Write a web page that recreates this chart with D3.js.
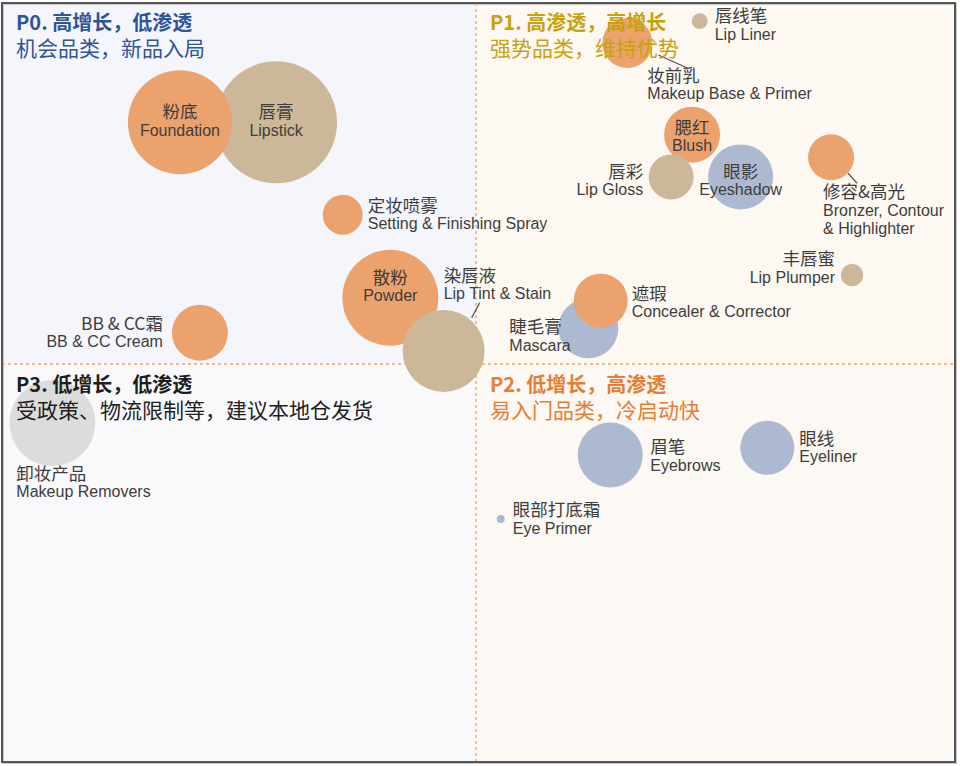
<!DOCTYPE html>
<html>
<head>
<meta charset="utf-8">
<script src="https://cdn.jsdelivr.net/npm/d3@7"></script>
<style>
  body { margin: 0; background: #ffffff; }
  svg { display: block; }
</style>
</head>
<body>
<div id="chart"></div>
<script>
// 品类（绘制顺序即叠放顺序）
const namesCn = ["唇膏", "粉底", "定妆喷雾", "散粉", "染唇液", "BB & CC霜", "睫毛膏", "遮瑕", "妆前乳", "唇线笔",
  "腮红", "唇彩", "眼影", "修容&高光", "丰唇蜜", "卸妆产品", "眉笔", "眼线", "眼部打底霜"];
const namesEn = ["Lipstick", "Foundation", "Setting & Finishing Spray", "Powder", "Lip Tint & Stain", "BB & CC Cream",
  "Mascara", "Concealer & Corrector", "Makeup Base & Primer", "Lip Liner", "Blush", "Lip Gloss", "Eyeshadow",
  "Bronzer, Contour|& Highlighter", "Lip Plumper", "Makeup Removers", "Eyebrows", "Eyeliner", "Eye Primer"];
const groups = ["lip", "face", "face", "face", "lip", "face", "eye", "face", "face", "lip",
  "face", "lip", "eye", "face", "lip", "remover", "eye", "eye", "eye"];
// 渗透率指数（x）、增长指数（y）、规模（气泡大小）
const penetration = [29.0, 18.9, 36.0, 41.0, 46.6, 21.0, 61.8, 63.1, 65.9, 73.5,
  72.7, 70.5, 77.8, 87.3, 89.5, 5.5, 64.1, 80.6, 52.6];
const growth = [83.2, 83.2, 70.5, 59.1, 51.8, 54.3, 54.9, 58.7, 94.1, 97.1,
  81.5, 75.7, 75.7, 78.4, 62.2, 41.9, 37.5, 38.5, 28.7];
const sizes = [100, 72.7, 10.7, 61.9, 45.2, 21.1, 24.2, 19.6, 16.8, 1.7,
  21.1, 13.6, 28.4, 14.2, 3.3, 49.7, 28.4, 19.6, 0.43];
const xMid = 50;
const yMid = 50;

// 象限标题
const quadrantTitles = ["P0. 高增长，低渗透", "P1. 高渗透，高增长", "P3. 低增长，低渗透", "P2. 低增长，高渗透"];
const quadrantNotes = ["机会品类，新品入局", "强势品类，维持优势", "受政策、物流限制等，建议本地仓发货", "易入门品类，冷启动快"];

// 标签摆放（相对气泡中心）
const labelLayout = {
  "唇膏": { anchor: "middle", dx: 0, dy: -4 },
  "粉底": { anchor: "middle", dx: 0, dy: -4 },
  "定妆喷雾": { anchor: "start", dx: 25, dy: -3 },
  "散粉": { anchor: "middle", dx: 0, dy: -14 },
  "染唇液": { anchor: "start", dx: 0, dy: -69, line: [28, -33, 36, -48] },
  "BB & CC霜": { anchor: "end", dx: -37, dy: -3 },
  "睫毛膏": { anchor: "start", dx: -79, dy: 5 },
  "遮瑕": { anchor: "start", dx: 31, dy: -1 },
  "妆前乳": { anchor: "start", dx: 20, dy: 39, line: [31, 12, 60, 25] },
  "唇线笔": { anchor: "start", dx: 15, dy: 1 },
  "腮红": { anchor: "middle", dx: 0, dy: -1 },
  "唇彩": { anchor: "end", dx: -28, dy: 1 },
  "眼影": { anchor: "middle", dx: 0, dy: 1 },
  "修容&高光": { anchor: "start", dx: -8, dy: 41, line: [17, 16, 26, 26] },
  "丰唇蜜": { anchor: "end", dx: -17, dy: -10 },
  "卸妆产品": { anchor: "start", dx: -36, dy: 57 },
  "眉笔": { anchor: "start", dx: 40, dy: -2 },
  "眼线": { anchor: "start", dx: 32, dy: -3 },
  "眼部打底霜": { anchor: "start", dx: 12, dy: -3 }
};

const width = 960;
const height = 766;
const cnFont = "'Noto Sans CJK SC', 'Noto Sans', sans-serif";
const enFont = "'Liberation Sans', Arial, sans-serif";

const data = namesCn.map((d, i) => ({
  cn: d,
  en: namesEn[i],
  group: groups[i],
  x: penetration[i],
  y: growth[i],
  size: sizes[i]
}));

createQuadrantChart(data, "#chart");

function createQuadrantChart(data, selector) {
  const svg = d3
    .select(selector)
    .append("svg")
    .attr("width", width)
    .attr("height", height);

  const xScale = d3.scaleLinear().domain([0, 100]).range([0, 952]);
  const yScale = d3.scaleLinear().domain([0, 100]).range([728, 0]);
  const rScale = d3.scaleSqrt().domain([0, d3.max(data, (d) => d.size)]).range([0, 61]);

  const color = d3
    .scaleOrdinal()
    .domain(["face", "lip", "eye", "remover"])
    .range(["#eca26c", "#cdb799", "#adb9d0", "#dcdcdc"]);

  const left = 2, top = 3, right = 955, bottom = 762;
  const mx = xScale(xMid);
  const my = yScale(yMid);

  // 象限底色
  const quads = [
    { x: left, y: top, w: mx - left, h: my - top, fill: "#f4f6fc" },
    { x: mx, y: top, w: right - mx, h: my - top, fill: "#fdf9f2" },
    { x: left, y: my, w: mx - left, h: bottom - my, fill: "#f9f9fc" },
    { x: mx, y: my, w: right - mx, h: bottom - my, fill: "#fcf8f3" }
  ];
  svg
    .selectAll("rect.quad")
    .data(quads)
    .enter()
    .append("rect")
    .attr("class", "quad")
    .attr("x", (d) => d.x)
    .attr("y", (d) => d.y)
    .attr("width", (d) => d.w)
    .attr("height", (d) => d.h)
    .attr("fill", (d) => d.fill);

  // 分割虚线
  svg
    .append("line")
    .attr("x1", mx).attr("x2", mx)
    .attr("y1", top).attr("y2", bottom)
    .attr("stroke", "#eea468")
    .attr("stroke-width", 1.3)
    .attr("stroke-dasharray", "3,3");
  svg
    .append("line")
    .attr("x1", left).attr("x2", right)
    .attr("y1", my).attr("y2", my)
    .attr("stroke", "#eea468")
    .attr("stroke-width", 1.3)
    .attr("stroke-dasharray", "3,3");

  // 气泡
  svg
    .selectAll("circle")
    .data(data)
    .enter()
    .append("circle")
    .attr("cx", (d) => xScale(d.x))
    .attr("cy", (d) => yScale(d.y))
    .attr("r", (d) => rScale(d.size))
    .attr("fill", (d) => color(d.group));

  // 引线
  data.forEach((d) => {
    const lay = labelLayout[d.cn];
    if (!lay.line) return;
    const cx = xScale(d.x), cy = yScale(d.y);
    svg
      .append("line")
      .attr("x1", cx + lay.line[0]).attr("y1", cy + lay.line[1])
      .attr("x2", cx + lay.line[2]).attr("y2", cy + lay.line[3])
      .attr("stroke", "#555")
      .attr("stroke-width", 1.2);
  });

  // 标签
  data.forEach((d) => {
    const lay = labelLayout[d.cn];
    const tx = xScale(d.x) + lay.dx;
    const ty = yScale(d.y) + lay.dy;
    const g = svg.append("g").attr("text-anchor", lay.anchor).attr("fill", "#3d3d3d");
    g.append("text")
      .attr("x", tx)
      .attr("y", ty)
      .style("font-family", cnFont)
      .style("font-size", "17.5px")
      .text(d.cn);
    d.en.split("|").forEach((t, j) => {
      g.append("text")
        .attr("x", tx)
        .attr("y", ty + 17.5 + j * 18.5)
        .style("font-family", enFont)
        .style("font-size", "16px")
        .text(t);
    });
  });

  // 象限标题
  const titleColors = ["#2e5597", "#c9a10c", "#1e1e1e", "#e97c33"];
  const titlePos = [
    [16, 30], [490, 30], [16, 392], [490, 392]
  ];
  quadrantTitles.forEach((t, i) => {
    svg
      .append("text")
      .attr("x", titlePos[i][0])
      .attr("y", titlePos[i][1])
      .attr("fill", titleColors[i])
      .style("font-family", cnFont)
      .style("font-size", "20px")
      .style("font-weight", "bold")
      .text(t);
    svg
      .append("text")
      .attr("x", titlePos[i][0])
      .attr("y", titlePos[i][1] + 26)
      .attr("fill", titleColors[i])
      .style("font-family", cnFont)
      .style("font-size", "21px")
      .text(quadrantNotes[i]);
  });

  // 外框
  svg
    .append("rect")
    .attr("x", left + 1)
    .attr("y", top + 1)
    .attr("width", right - left)
    .attr("height", bottom - top)
    .attr("fill", "none")
    .attr("stroke", "#c8c8c8")
    .attr("stroke-width", 2);
  svg
    .append("rect")
    .attr("x", left)
    .attr("y", top)
    .attr("width", right - left)
    .attr("height", bottom - top)
    .attr("fill", "none")
    .attr("stroke", "#555555")
    .attr("stroke-width", 2);
}
</script>
</body>
</html>
